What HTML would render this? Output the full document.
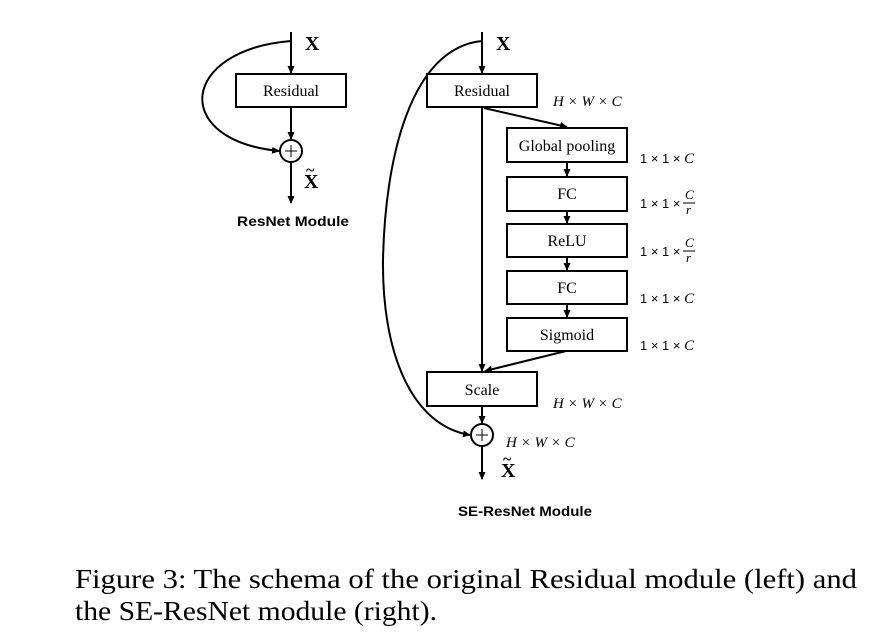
<!DOCTYPE html>
<html><head><meta charset="utf-8"><style>
html,body{margin:0;padding:0;background:#fff;}
svg{display:block;}
.b{fill:#fff;stroke:#000;stroke-width:2;}
.l{fill:none;stroke:#000;stroke-width:2;}
.t{font-family:"Liberation Serif",serif;font-size:16px;text-anchor:middle;}
.m{font-family:"Liberation Serif",serif;font-size:15px;font-style:italic;}
.n{font-family:"Liberation Sans",sans-serif;font-size:13px;}
.X{font-family:"Liberation Serif",serif;font-size:20px;font-weight:bold;}
.h{font-family:"Liberation Sans",sans-serif;font-size:14px;font-weight:bold;}
.c{font-family:"Liberation Serif",serif;font-size:27px;}
</style></head><body>
<svg width="887" height="635" viewBox="0 0 887 635" xmlns="http://www.w3.org/2000/svg">
<defs><marker id="a" markerWidth="8" markerHeight="8" refX="7" refY="4" orient="auto" markerUnits="userSpaceOnUse"><path d="M0,0.5 L8,4 L0,7.5 z" fill="#000"/></marker></defs>
<!-- Left -->
<line class="l" x1="291" y1="32" x2="291" y2="73" marker-end="url(#a)"/>
<rect class="b" x="236" y="74" width="110" height="33"/>
<text class="t" x="291" y="96">Residual</text>
<line class="l" x1="291" y1="107" x2="291" y2="139" marker-end="url(#a)"/>
<path class="l" d="M291,41 C180,50 170,140 279,151" marker-end="url(#a)"/>
<circle class="b" cx="291" cy="151" r="11"/>
<line x1="285" y1="151" x2="297" y2="151" stroke="#000" stroke-width="1"/>
<line x1="291" y1="145" x2="291" y2="157" stroke="#000" stroke-width="1"/>
<line class="l" x1="291" y1="162" x2="291" y2="203" marker-end="url(#a)"/>
<text class="X" x="305" y="50">X</text>
<text class="X" x="304" y="188">X</text><text class="X" x="306" y="175" style="font-size:16px">~</text>
<text class="h" x="237" y="226" textLength="112" lengthAdjust="spacingAndGlyphs">ResNet Module</text>
<!-- Right -->
<line class="l" x1="482" y1="32" x2="482" y2="73" marker-end="url(#a)"/>
<path class="l" d="M482,41 C410,48 385,160 383,260 C382,350 410,425 470,435" marker-end="url(#a)"/>
<rect class="b" x="427" y="74" width="110" height="33"/>
<text class="t" x="482" y="96">Residual</text>
<text class="m" x="553" y="106">H × W × C</text>
<line class="l" x1="482" y1="107" x2="482" y2="371" marker-end="url(#a)"/>
<line class="l" x1="484" y1="108" x2="567" y2="127" marker-end="url(#a)"/>
<rect class="b" x="507" y="128" width="120" height="34"/>
<text class="t" x="567" y="151">Global pooling</text>
<line class="l" x1="567" y1="162" x2="567" y2="176" marker-end="url(#a)"/>
<rect class="b" x="507" y="177" width="120" height="34"/>
<text class="t" x="567" y="199">FC</text>
<line class="l" x1="567" y1="211" x2="567" y2="223" marker-end="url(#a)"/>
<rect class="b" x="507" y="224" width="120" height="33"/>
<text class="t" x="567" y="246">ReLU</text>
<line class="l" x1="567" y1="257" x2="567" y2="270" marker-end="url(#a)"/>
<rect class="b" x="507" y="271" width="120" height="33"/>
<text class="t" x="567" y="293">FC</text>
<line class="l" x1="567" y1="304" x2="567" y2="317" marker-end="url(#a)"/>
<rect class="b" x="507" y="318" width="120" height="33"/>
<text class="t" x="567" y="340">Sigmoid</text>
<line class="l" x1="566" y1="351" x2="485" y2="371" marker-end="url(#a)"/>
<text class="n" x="640" y="163">1 × 1 × <tspan class="m">C</tspan></text>
<text class="n" x="640" y="208">1 × 1 ×</text>
<text class="m" x="685" y="199" style="font-size:13px">C</text><line x1="683" y1="203" x2="695" y2="203" stroke="#000" stroke-width="1"/><text class="m" x="686" y="214" style="font-size:13px">r</text>
<text class="n" x="640" y="256">1 × 1 ×</text>
<text class="m" x="685" y="247" style="font-size:13px">C</text><line x1="683" y1="251" x2="695" y2="251" stroke="#000" stroke-width="1"/><text class="m" x="686" y="262" style="font-size:13px">r</text>
<text class="n" x="640" y="303">1 × 1 × <tspan class="m">C</tspan></text>
<text class="n" x="640" y="350">1 × 1 × <tspan class="m">C</tspan></text>
<rect class="b" x="427" y="372" width="110" height="34"/>
<text class="t" x="482" y="395">Scale</text>
<text class="m" x="553" y="408">H × W × C</text>
<line class="l" x1="482" y1="406" x2="482" y2="423" marker-end="url(#a)"/>
<circle class="b" cx="482" cy="435" r="11"/>
<line x1="476" y1="435" x2="488" y2="435" stroke="#000" stroke-width="1"/>
<line x1="482" y1="429" x2="482" y2="441" stroke="#000" stroke-width="1"/>
<text class="m" x="506" y="447">H × W × C</text>
<line class="l" x1="482" y1="446" x2="482" y2="479" marker-end="url(#a)"/>
<text class="X" x="501" y="477">X</text><text class="X" x="503" y="464" style="font-size:16px">~</text>
<text class="X" x="496" y="50">X</text>
<text class="h" x="458" y="516" textLength="134" lengthAdjust="spacingAndGlyphs">SE-ResNet Module</text>
<!-- Caption -->
<text class="c" x="75" y="588" textLength="782" lengthAdjust="spacingAndGlyphs">Figure 3:  The schema of the original Residual module (left) and</text>
<text class="c" x="75" y="620" textLength="362" lengthAdjust="spacingAndGlyphs">the SE-ResNet module (right).</text>
</svg>
</body></html>
